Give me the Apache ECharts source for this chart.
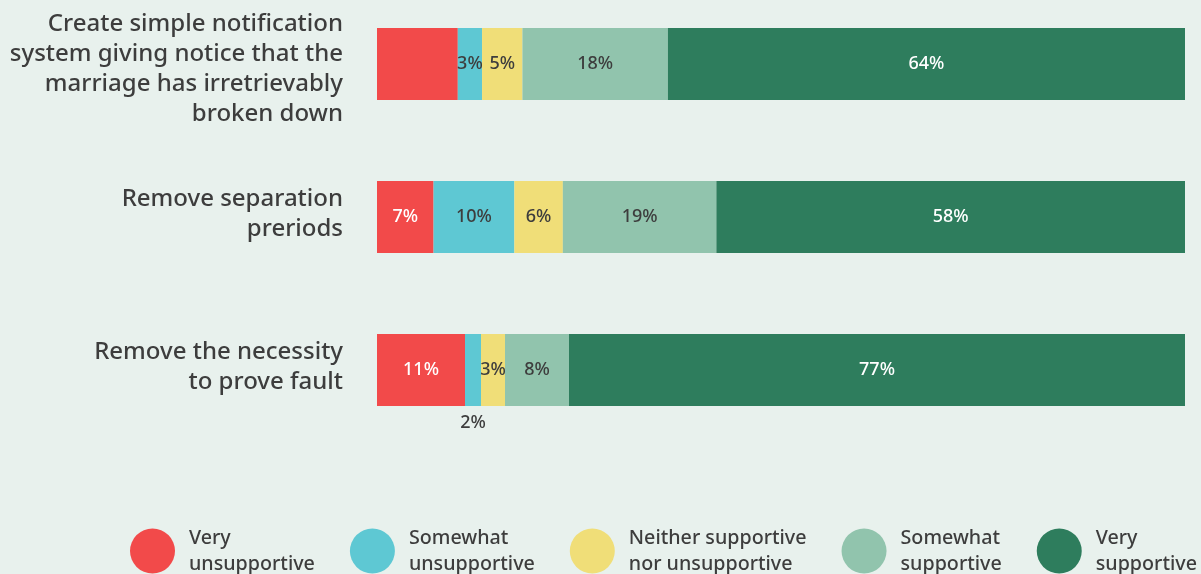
<!DOCTYPE html>
<html><head><meta charset="utf-8">
<script src="https://cdn.jsdelivr.net/npm/echarts@6/dist/echarts.min.js"></script>
<style>html,body{margin:0;padding:0;background:#e8f1ed;}#c{width:1201px;height:574px;}</style>
</head><body><div id="c"></div>
<script>
const categories = [
  'Create simple notification\nsystem giving notice that the\nmarriage has irretrievably\nbroken down',
  'Remove separation\npreriods',
  'Remove the necessity\nto prove fault'
];
const seriesNames = ['Very\nunsupportive','Somewhat\nunsupportive','Neither supportive\nnor unsupportive','Somewhat\nsupportive','Very\nsupportive'];
const veryUnsupportive = [10, 7, 11];
const somewhatUnsupportive = [3, 10, 2];
const neither = [5, 6, 3];
const somewhatSupportive = [18, 19, 8];
const verySupportive = [64, 58, 77];
const hiddenLabels = [[0,0]]; // [seriesIndex, dataIndex] with no label in the original
const belowLabels = [[1,2]];

const colors = ['#f24a4a','#5ec8d3','#f0de78','#91c4ad','#2e7d5d'];
const labelColors = ['#ffffff','#3d3d3d','#3d3d3d','#3d3d3d','#ffffff'];
const raw = [veryUnsupportive, somewhatUnsupportive, neither, somewhatSupportive, verySupportive];
const totals = categories.map((_, i) => raw.reduce((s, a) => s + a[i], 0));

const chart = echarts.init(document.getElementById('c'));
const FONT = 'Noto Sans';
const lblStyle = { fontSize: 24, fontWeight: 500, lineHeight: 30, color: '#3d3d3d', fontFamily: FONT };
chart.setOption({
  backgroundColor: '#e8f1ed',
  animation: false,
  textStyle: { fontFamily: FONT },
  grid: { left: 377, right: 16, top: 64, bottom: 204, containLabel: false },
  xAxis: { type: 'value', min: 0, max: 100, show: false },
  yAxis: {
    type: 'category', inverse: true, data: categories, boundaryGap: false,
    axisLine: { show: false }, axisTick: { show: false },
    axisLabel: Object.assign({
      margin: 34, align: 'right',
      formatter: (v, i) => {
        const k = i === 0 ? 'a' : 'b';
        return v.split('\n').map(l => '{' + k + '|' + l + '}').join('\n');
      },
      rich: {
        a: Object.assign({ padding: [11, 0, 0, 0] }, lblStyle),
        b: Object.assign({ padding: [0, 0, 5, 0] }, lblStyle)
      }
    }, lblStyle)
  },
  legend: {
    left: 130, top: 525, width: 1071, padding: 0, itemWidth: 45, itemHeight: 45, itemGap: 35, icon: 'circle',
    textStyle: { fontSize: 19.7, fontWeight: 500, lineHeight: 26, color: '#3d3d3d', fontFamily: FONT, padding: [0,0,0,9] },
    data: seriesNames
  },
  series: raw.map((arr, s) => ({
    name: seriesNames[s], type: 'bar', stack: 'total', barWidth: 72,
    itemStyle: { color: colors[s] },
    label: {
      show: true, position: 'inside', fontSize: 18, fontWeight: 500, color: labelColors[s], fontFamily: FONT,
      formatter: p => arr[p.dataIndex] + '%'
    },
    data: arr.map((v, i) => {
      const item = { value: v / totals[i] * 100 };
      if (hiddenLabels.some(h => h[0] === s && h[1] === i)) item.label = { show: false };
      if (belowLabels.some(h => h[0] === s && h[1] === i)) item.label = { position: 'bottom', distance: 8, color: '#3d3d3d' };
      return item;
    })
  }))
});
</script></body></html>
